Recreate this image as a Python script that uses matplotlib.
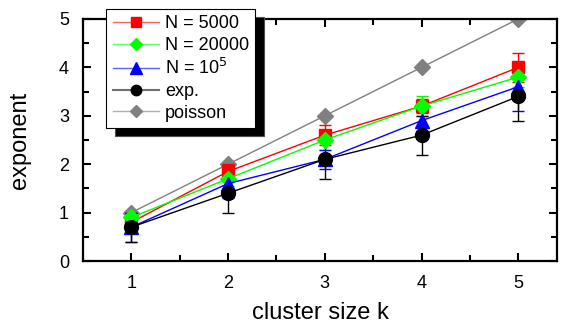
import matplotlib
matplotlib.use("Agg")
import matplotlib.pyplot as plt
from matplotlib.ticker import MultipleLocator
from matplotlib.lines import Line2D

plt.rcParams['font.family'] = ['Liberation Sans', 'DejaVu Sans']

k = [1, 2, 3, 4, 5]
n5000 = [0.8, 1.85, 2.6, 3.2, 4.0]
n5000_err = [0.1, 0.15, 0.2, 0.15, 0.3]
n20000 = [0.9, 1.7, 2.5, 3.2, 3.8]
n20000_err = [0.1, 0.15, 0.2, 0.2, 0.2]
n1e5 = [0.7, 1.6, 2.1, 2.9, 3.6]
n1e5_err = [0.3, 0.3, 0.2, 0.3, 0.5]
expv = [0.7, 1.4, 2.1, 2.6, 3.4]
exp_err = [0.3, 0.4, 0.4, 0.4, 0.5]
poisson = [1, 2, 3, 4, 5]
labels = ['N = 5000', 'N = 20000', 'N = 10$^5$', 'exp.', 'poisson']

fig = plt.figure(figsize=(5.66, 3.27), dpi=100)
ax = fig.add_axes([0.1466, 0.2018, 0.8374, 0.7402])

ax.plot(k, poisson, color='gray', marker='D', ms=8.5, lw=1)
ax.errorbar(k, n5000, yerr=n5000_err, color='red', marker='s', ms=8.5, lw=1,
            capsize=4, elinewidth=1)
ax.errorbar(k, n20000, yerr=n20000_err, color='#00ff00', marker='D', ms=8, lw=1,
            capsize=4, elinewidth=1)
ax.errorbar(k, n1e5, yerr=n1e5_err, color='blue', marker='^', ms=10, lw=1,
            capsize=4, elinewidth=1)
ax.errorbar(k, expv, yerr=exp_err, color='black', marker='o', ms=10, lw=1,
            capsize=4, elinewidth=1)

ax.set_xlim(0.5, 5.4)
ax.set_ylim(0, 5)
ax.xaxis.set_major_locator(MultipleLocator(1))
ax.xaxis.set_minor_locator(MultipleLocator(0.5))
ax.yaxis.set_major_locator(MultipleLocator(1))
ax.yaxis.set_minor_locator(MultipleLocator(0.5))
ax.tick_params(which='both', direction='in', top=True, right=True, width=1.5,
               labelsize=13)
ax.tick_params(which='major', length=6, pad=10)
ax.tick_params(which='minor', length=4)
for s in ax.spines.values():
    s.set_linewidth(1.6)

ax.set_xlabel('cluster size k', fontsize=17, labelpad=7)
ax.set_ylabel('exponent', fontsize=17, labelpad=20)

handles = [
    Line2D([], [], color='#ff6060', marker='s', mfc='red', mec='red', ms=7, lw=1),
    Line2D([], [], color='#60ff60', marker='D', mfc='#00ff00', mec='#00ff00', ms=6.5, lw=1),
    Line2D([], [], color='#6060ff', marker='^', mfc='blue', mec='blue', ms=8, lw=1),
    Line2D([], [], color='#707070', marker='o', mfc='black', mec='black', ms=7.5, lw=1.5),
    Line2D([], [], color='#b0b0b0', marker='D', mfc='gray', mec='gray', ms=6.5, lw=1),
]
leg = ax.legend(handles, labels, loc='upper left', bbox_to_anchor=(0.049, 1.041),
                borderaxespad=0, fontsize=13, fancybox=False, framealpha=1,
                edgecolor='black', handlelength=2.6, handletextpad=0.3,
                labelspacing=0.25, borderpad=0.35,
                shadow={'ox': 6, 'oy': -6, 'facecolor': 'black', 'alpha': 1})
leg.get_frame().set_linewidth(0.8)

fig.savefig('out.png', dpi=100)
